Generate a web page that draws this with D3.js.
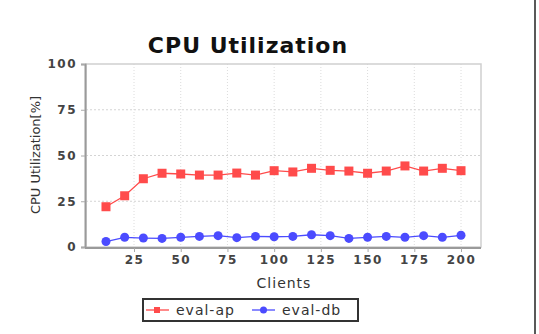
<!DOCTYPE html>
<html>
<head>
<meta charset="utf-8">
<script src="https://cdn.jsdelivr.net/npm/d3@7"></script>
<style>
  body { margin: 0; background: #fff; }
  svg { display: block; }
</style>
</head>
<body>
<div id="chart"></div>
<script>
var width = 539,
	height = 334;

// clients on the x axis
var clients = [10, 20, 30, 40, 50, 60, 70, 80, 90, 100, 110, 120, 130, 140, 150, 160, 170, 180, 190, 200];
// cpu utilization in percent
var evalAp = [22, 28, 37.3, 40.3, 39.9, 39.3, 39.3, 40.4, 39.3, 41.7, 41, 43, 41.9, 41.5, 40.3, 41.5, 44.3, 41.5, 43, 41.7];
var evalDb = [3, 5.3, 4.9, 4.7, 5.3, 5.8, 6.2, 5.1, 5.8, 5.6, 5.8, 6.7, 6.2, 4.7, 5.3, 5.8, 5.3, 6.2, 5.3, 6.4];
var xTicks = [25, 50, 75, 100, 125, 150, 175, 200];
var yTicks = [0, 25, 50, 75, 100];
var seriesNames = ["eval-ap", "eval-db"];
var seriesColors = ["#ff4b4b", "#4b4bff"];

var plot = { left: 86, right: 481, top: 64, bottom: 247 };

var svg = d3.select("#chart").append("svg")
	.attr("width", width)
	.attr("height", height);

var x = d3.scaleLinear().domain([0, 210.7]).range([87.3, plot.right]);
var y = d3.scaleLinear().domain([0, 100]).range([plot.bottom, plot.top]);

// grid lines, dotted
svg.append("g").selectAll("line")
	.data(xTicks)
	.enter().append("line")
	.attr("x1", function(d) { return x(d); })
	.attr("x2", function(d) { return x(d); })
	.attr("y1", plot.top)
	.attr("y2", plot.bottom)
	.style("stroke", "#dcdcdc")
	.style("stroke-dasharray", "1,2");

svg.append("g").selectAll("line")
	.data(yTicks.filter(function(d) { return d > 0 && d < 100; }))
	.enter().append("line")
	.attr("x1", plot.left)
	.attr("x2", plot.right)
	.attr("y1", function(d) { return y(d); })
	.attr("y2", function(d) { return y(d); })
	.style("stroke", "#d4d4d4")
	.style("stroke-dasharray", "2,2");

// plot border
svg.append("rect")
	.attr("x", plot.left)
	.attr("y", plot.top)
	.attr("width", plot.right - plot.left)
	.attr("height", plot.bottom - plot.top)
	.style("fill", "none")
	.style("stroke", "#cfcfcf")
	.style("stroke-width", 1.5);

// axes
var xAxis = svg.append("g")
	.attr("transform", "translate(0," + (plot.bottom + 1) + ")")
	.call(d3.axisBottom(x).tickValues(xTicks).tickSize(4).tickPadding(3));

var yAxis = svg.append("g")
	.attr("transform", "translate(" + (plot.left - 1) + ",0)")
	.call(d3.axisLeft(y).tickValues(yTicks).tickSize(4).tickPadding(4));

[xAxis, yAxis].forEach(function(ax) {
	ax.select(".domain").style("stroke", "#9a9a9a").style("stroke-width", 2);
	ax.selectAll(".tick line").style("stroke", "#aaa");
	ax.selectAll(".tick text")
		.style("font-family", "DejaVu Sans, sans-serif")
		.style("font-size", "12px")
		.style("font-weight", "bold")
		.style("letter-spacing", "1.5px")
		.style("fill", "#444");
});
xAxis.select(".domain").attr("d", "M" + (plot.left - 1) + ",0H" + plot.right);

// series
var line = d3.line()
	.x(function(d) { return x(d[0]); })
	.y(function(d) { return y(d[1]); });

[evalAp, evalDb].forEach(function(values, s) {
	var pts = clients.map(function(c, i) { return [c, values[i]]; });
	svg.append("path")
		.datum(pts)
		.attr("d", line)
		.style("fill", "none")
		.style("stroke", seriesColors[s])
		.style("stroke-width", 1.3);

	var marks = svg.append("g").selectAll(".m")
		.data(pts)
		.enter();
	if (s === 0) {
		marks.append("rect")
			.attr("x", function(d) { return x(d[0]) - 4.5; })
			.attr("y", function(d) { return y(d[1]) - 4.5; })
			.attr("width", 9)
			.attr("height", 9)
			.style("fill", seriesColors[s]);
	} else {
		marks.append("circle")
			.attr("cx", function(d) { return x(d[0]); })
			.attr("cy", function(d) { return y(d[1]); })
			.attr("r", 4.5)
			.style("fill", seriesColors[s]);
	}
});

// title
svg.append("text")
	.attr("x", 248)
	.attr("y", 53)
	.attr("text-anchor", "middle")
	.style("font-family", "DejaVu Sans, sans-serif")
	.style("font-weight", "bold")
	.style("font-size", "22px")
	.style("letter-spacing", "1px")
	.style("fill", "#111")
	.text("CPU Utilization");

// axis labels
svg.append("text")
	.attr("transform", "translate(40,155) rotate(-90)")
	.attr("text-anchor", "middle")
	.style("font-family", "DejaVu Sans, sans-serif")
	.style("font-size", "13px")
	.style("fill", "#333")
	.text("CPU Utilization[%]");

svg.append("text")
	.attr("x", 284)
	.attr("y", 288)
	.attr("text-anchor", "middle")
	.style("font-family", "DejaVu Sans, sans-serif")
	.style("font-size", "14px")
	.style("letter-spacing", "1px")
	.style("fill", "#333")
	.text("Clients");

// legend
var legend = svg.append("g");
legend.append("rect")
	.attr("x", 143)
	.attr("y", 299)
	.attr("width", 215)
	.attr("height", 22)
	.style("fill", "#fff")
	.style("stroke", "#333")
	.style("stroke-width", 2);

var legendX = [146, 252];
seriesNames.forEach(function(name, s) {
	var lx = legendX[s];
	legend.append("line")
		.attr("x1", lx)
		.attr("x2", lx + 23)
		.attr("y1", 310)
		.attr("y2", 310)
		.style("stroke", seriesColors[s])
		.style("stroke-width", 1.3);
	if (s === 0) {
		legend.append("rect")
			.attr("x", lx + 8)
			.attr("y", 307)
			.attr("width", 6)
			.attr("height", 6)
			.style("fill", seriesColors[s]);
	} else {
		legend.append("circle")
			.attr("cx", lx + 11.5)
			.attr("cy", 310)
			.attr("r", 3.5)
			.style("fill", seriesColors[s]);
	}
	legend.append("text")
		.attr("x", lx + 30)
		.attr("y", 315)
		.style("font-family", "DejaVu Sans, sans-serif")
		.style("font-size", "14px")
		.style("letter-spacing", "1px")
		.style("fill", "#333")
		.text(name);
});

// frame line on the right edge
svg.append("line")
	.attr("x1", 535)
	.attr("x2", 535)
	.attr("y1", 0)
	.attr("y2", height)
	.style("stroke", "#222")
	.style("stroke-width", 1.5);
</script>
</body>
</html>
